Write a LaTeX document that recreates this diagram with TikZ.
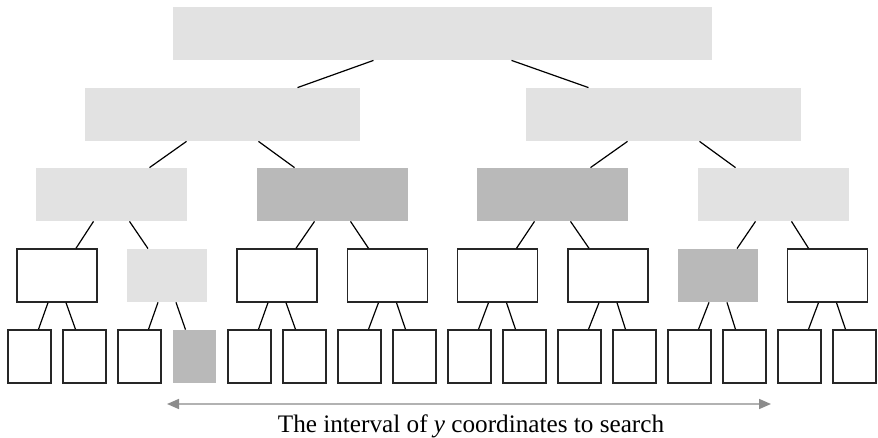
\documentclass[tikz,border=0pt]{standalone}
\usepackage{fontspec}
\setmainfont{Liberation Serif}
\usepackage{tikz}
\usetikzlibrary{arrows.meta}
\definecolor{lightgrey}{gray}{0.886}
\definecolor{darkgrey}{gray}{0.725}

\begin{document}
\begin{tikzpicture}[x=0.5pt, y=-0.5pt,
            cell/.style={rectangle, inner sep=0pt, minimum height=26.5pt},
            light/.style={cell, fill=lightgrey},
            dark/.style={cell, fill=darkgrey},
            blank/.style={cell, draw=black!85, fill=white, line width=0.7pt},
            w0/.style={minimum width=269.5pt},
            w1/.style={minimum width=137.5pt},
            w2/.style={minimum width=75.5pt},
            w3/.style={minimum width=40pt},
            w4/.style={minimum width=21.5pt},
            link/.style={line width=0.6pt},
            interval/.style={{Triangle[length=6pt, width=5pt, color=black!45]}-{Triangle[length=6pt, width=5pt, color=black!45]}, draw=black!30, line width=0.8pt}]

            \useasboundingbox (0,0) rectangle (878,438);

            % Wurzel
            \node[light, w0] (a) at (442.5,33.5) {};

            % Ebene 1
            \node[light, w1] (b1) at (222.5,114.5) {};
            \node[light, w1] (b2) at (663.5,114.5) {};

            % Ebene 2
            \node[light, w2] (c1) at (111.5,194.5) {};
            \node[dark, w2] (c2) at (332.5,194.5) {};
            \node[dark, w2] (c3) at (552.5,194.5) {};
            \node[light, w2] (c4) at (773.5,194.5) {};

            % Ebene 3
            \node[blank, w3] (d1) at (57,275.5) {};
            \node[light, w3] (d2) at (167,275.5) {};
            \node[blank, w3] (d3) at (277,275.5) {};
            \node[blank, w3] (d4) at (387.5,275.5) {};
            \node[blank, w3] (d5) at (497.5,275.5) {};
            \node[blank, w3] (d6) at (608,275.5) {};
            \node[dark, w3] (d7) at (718,275.5) {};
            \node[blank, w3] (d8) at (827.5,275.5) {};

            % Blaetter
            \node[blank, w4] (e1) at (29.5,356.5) {};
            \node[blank, w4] (e2) at (84.5,356.5) {};
            \node[blank, w4] (e3) at (139.5,356.5) {};
            \node[dark, w4] (e4) at (194.5,356.5) {};
            \node[blank, w4] (e5) at (249.5,356.5) {};
            \node[blank, w4] (e6) at (304.5,356.5) {};
            \node[blank, w4] (e7) at (359.5,356.5) {};
            \node[blank, w4] (e8) at (414.5,356.5) {};
            \node[blank, w4] (e9) at (469.5,356.5) {};
            \node[blank, w4] (e10) at (524.5,356.5) {};
            \node[blank, w4] (e11) at (579.5,356.5) {};
            \node[blank, w4] (e12) at (634.5,356.5) {};
            \node[blank, w4] (e13) at (689.5,356.5) {};
            \node[blank, w4] (e14) at (744.5,356.5) {};
            \node[blank, w4] (e15) at (799.5,356.5) {};
            \node[blank, w4] (e16) at (854.5,356.5) {};

            % Kanten
            \draw[link] ([xshift=-34.5pt]a.south) -- ([xshift=37.5pt]b1.north);
            \draw[link] ([xshift=34.5pt]a.south) -- ([xshift=-37.5pt]b2.north);

            \draw[link] ([xshift=-18pt]b1.south) -- ([xshift=19pt]c1.north);
            \draw[link] ([xshift=18pt]b1.south) -- ([xshift=-19pt]c2.north);
            \draw[link] ([xshift=-18pt]b2.south) -- ([xshift=19pt]c3.north);
            \draw[link] ([xshift=18pt]b2.south) -- ([xshift=-19pt]c4.north);

            \draw[link] ([xshift=-9pt]c1.south) -- ([xshift=9.5pt]d1.north);
            \draw[link] ([xshift=9pt]c1.south) -- ([xshift=-9.5pt]d2.north);
            \draw[link] ([xshift=-9pt]c2.south) -- ([xshift=9.5pt]d3.north);
            \draw[link] ([xshift=9pt]c2.south) -- ([xshift=-9.5pt]d4.north);
            \draw[link] ([xshift=-9pt]c3.south) -- ([xshift=9.5pt]d5.north);
            \draw[link] ([xshift=9pt]c3.south) -- ([xshift=-9.5pt]d6.north);
            \draw[link] ([xshift=-9pt]c4.south) -- ([xshift=9.5pt]d7.north);
            \draw[link] ([xshift=9pt]c4.south) -- ([xshift=-9.5pt]d8.north);

            \draw[link] ([xshift=-4.5pt]d1.south) -- ([xshift=4.5pt]e1.north);
            \draw[link] ([xshift=4.5pt]d1.south) -- ([xshift=-4.5pt]e2.north);
            \draw[link] ([xshift=-4.5pt]d2.south) -- ([xshift=4.5pt]e3.north);
            \draw[link] ([xshift=4.5pt]d2.south) -- ([xshift=-4.5pt]e4.north);
            \draw[link] ([xshift=-4.5pt]d3.south) -- ([xshift=4.5pt]e5.north);
            \draw[link] ([xshift=4.5pt]d3.south) -- ([xshift=-4.5pt]e6.north);
            \draw[link] ([xshift=-4.5pt]d4.south) -- ([xshift=4.5pt]e7.north);
            \draw[link] ([xshift=4.5pt]d4.south) -- ([xshift=-4.5pt]e8.north);
            \draw[link] ([xshift=-4.5pt]d5.south) -- ([xshift=4.5pt]e9.north);
            \draw[link] ([xshift=4.5pt]d5.south) -- ([xshift=-4.5pt]e10.north);
            \draw[link] ([xshift=-4.5pt]d6.south) -- ([xshift=4.5pt]e11.north);
            \draw[link] ([xshift=4.5pt]d6.south) -- ([xshift=-4.5pt]e12.north);
            \draw[link] ([xshift=-4.5pt]d7.south) -- ([xshift=4.5pt]e13.north);
            \draw[link] ([xshift=4.5pt]d7.south) -- ([xshift=-4.5pt]e14.north);
            \draw[link] ([xshift=-4.5pt]d8.south) -- ([xshift=4.5pt]e15.north);
            \draw[link] ([xshift=4.5pt]d8.south) -- ([xshift=-4.5pt]e16.north);

            % Suchintervall
            \coordinate (lo) at (167,404);
            \coordinate (hi) at (771,404);
            \draw[interval] (lo) -- (hi);
            \node[anchor=base, font=\fontsize{12.6}{15}\selectfont] (caption) at (471,432) {The interval of \textit{y} coordinates to search};
        \end{tikzpicture}
\end{document}
